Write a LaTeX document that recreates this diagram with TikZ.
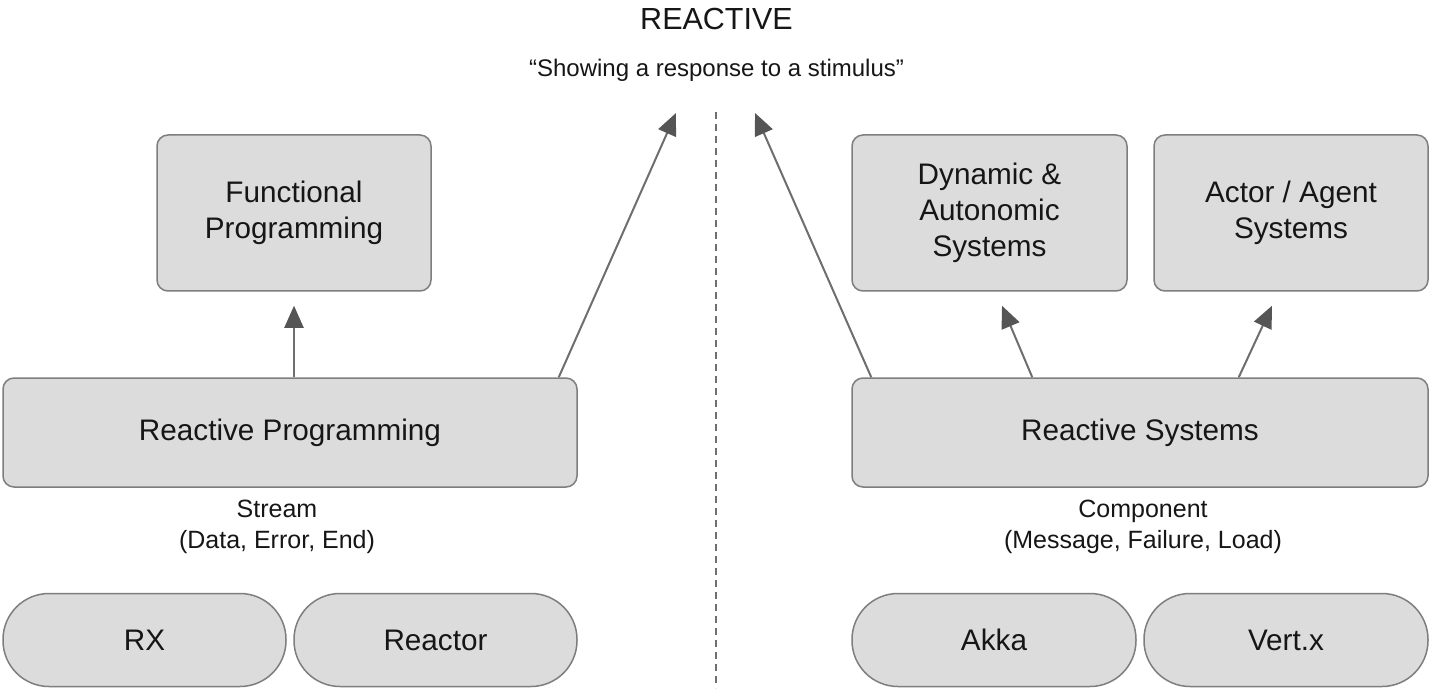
\documentclass[tikz,border=0pt]{standalone}
\usepackage{fontspec}
\setmainfont{Liberation Sans}
\usetikzlibrary{arrows.meta,calc}
\definecolor{boxfill}{HTML}{DCDCDD}
\definecolor{boxline}{HTML}{7E7E7E}
\definecolor{txt}{HTML}{161616}
\definecolor{arrline}{HTML}{6E6E6E}
\definecolor{arrhead}{HTML}{555555}
\begin{document}
\begin{tikzpicture}[x=1pt,y=-1pt,
  box/.style={draw=boxline, line width=1.5pt, fill=boxfill, rounded corners=11pt,
    inner sep=0pt, align=center, text=txt, font=\fontsize{29.7}{36}\selectfont},
  pill/.style={draw=boxline, line width=1.5pt, fill=boxfill, rounded corners=46pt,
    inner sep=0pt, minimum height=93pt, minimum width=283pt, text=txt,
    font=\fontsize{29.7}{36}\selectfont},
  lbl/.style={inner sep=0pt, align=center, text=txt, font=\fontsize{25}{31}\selectfont},
  arr/.style={draw=arrline, line width=2pt,
    -{Triangle[length=22pt,width=19pt,fill=arrhead,color=arrhead]}},
]
\useasboundingbox (0,0) rectangle (1436,695);
\fill[white] (0,0) rectangle (1436,695);

\node[anchor=base, text=txt, font=\fontsize{30.5}{36}\selectfont] (title) at (716.5,30) {REACTIVE};
\node[anchor=base, text=txt, font=\fontsize{24}{28}\selectfont] (sub) at (716.5,77) {“Showing a response to a stimulus”};

\coordinate (dtop) at (716,112);
\coordinate (dbot) at (716,688);
\draw[arrline, line width=2pt, dash pattern=on 7pt off 5pt] (dtop) -- (dbot);

% left
\node[box, minimum width=274pt, minimum height=156pt] (fp) at (294,213) {Functional\\Programming};
\node[box, minimum width=574pt, minimum height=109pt] (rp) at (290,432.5) {Reactive Programming};
\node[lbl] (stream) at (277,527) {Stream\\(Data, Error, End)};
\node[pill] (rx) at (144.5,640) {RX};
\node[pill] (reactor) at (435.5,640) {Reactor};

% right
\node[box, minimum width=275pt, minimum height=156pt] (das) at (989.5,213) {Dynamic \&\\Autonomic\\Systems};
\node[box, minimum width=274pt, minimum height=156pt] (aas) at (1291,213) {Actor / Agent\\Systems};
\node[box, minimum width=576pt, minimum height=109pt] (rs) at (1140,432.5) {Reactive Systems};
\node[lbl] (comp) at (1143,527) {Component\\(Message, Failure, Load)};
\node[pill, minimum width=284pt] (akka) at (994,640) {Akka};
\node[pill, minimum width=284pt] (vertx) at (1286,640) {Vert.x};

\coordinate (topL) at (676,113);
\coordinate (topR) at (755,113);

\draw[arr] (rp.north -| fp.south) -- ([yshift=-14pt]fp.south);
\draw[arr] ([xshift=-19pt]rp.north east) -- (topL);
\draw[arr] ([xshift=20pt]rs.north west) -- (topR);
\draw[arr] ([xshift=181pt]rs.north west) -- ([xshift=12.5pt,yshift=-14pt]das.south);
\draw[arr] ([xshift=-190pt]rs.north east) -- ([xshift=-19pt,yshift=-14pt]aas.south);
\end{tikzpicture}
\end{document}
